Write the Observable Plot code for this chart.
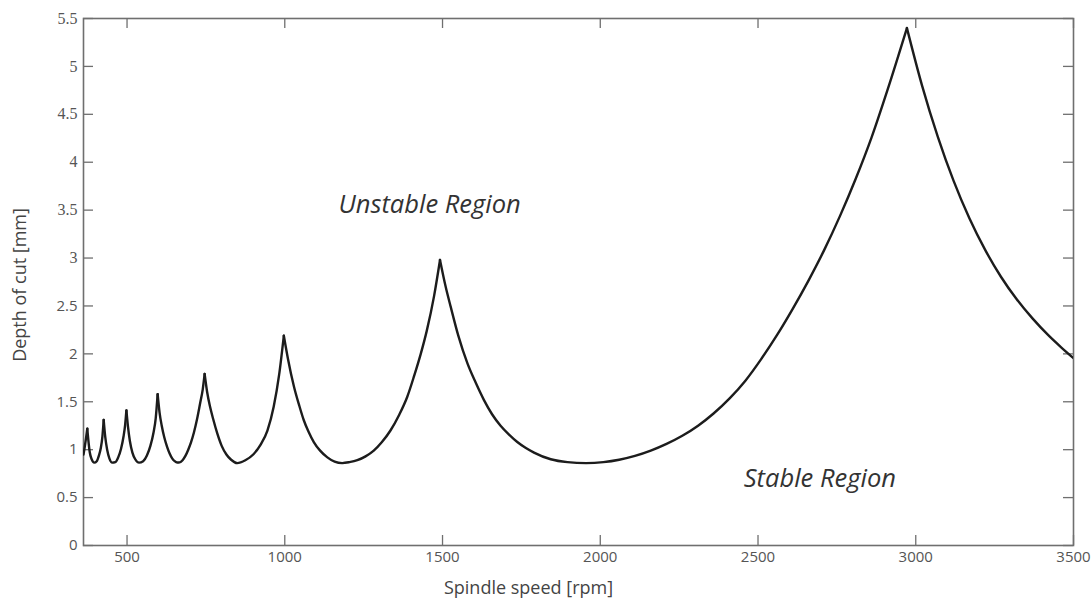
<!DOCTYPE html>
<html><head><meta charset="utf-8">
<script src="https://cdn.jsdelivr.net/npm/d3@7"></script>
<script src="https://cdn.jsdelivr.net/npm/@observablehq/plot@0.6"></script>
<style>
html,body{margin:0;padding:0;background:#fff;}
#chart{width:1091px;height:600px;}
</style></head><body><div id="chart"></div>
<script>
// Spindle speed [rpm] along the stability-lobe boundary (a repeated speed marks a lobe cusp)
const speed = [
362,366,370,374,
374,378,382,388,396,404,411,417,422,426,
426,431,437,444,453,463,472,481,489,494,498,
498,503,509,517,526,538,551,563,574,584,591,597,
597,603,610,618,627,635,643,651,659,667,676,685,694,703,712,722,732,740,746,
746,754,763,773,786,800,815,830,849,875,900,923,945,965,982,997,
997,1010,1029,1045,1060,1075,1092,1112,1135,1158,1182,1205,1230,1256,1282,1308,1335,1362,1388,1410,1431,1450,1473,1492,
1492,1510,1526,1550,1579,1605,1631,1657,1684,1710,1737,1763,1790,1843,1896,1955,2010,2060,2110,2160,2210,2260,2310,2360,2410,2460,2510,2560,2610,2660,2710,2760,2810,2860,2910,2972,
2972,3020,3070,3120,3170,3220,3270,3320,3370,3420,3460,3500
];
// Depth of cut [mm]
const depth = [
0.95,1.03,1.12,1.22,
1.22,1.08,0.97,0.9,0.865,0.88,0.94,1.02,1.14,1.31,
1.31,1.13,1.0,0.91,0.865,0.87,0.92,1.01,1.14,1.26,1.41,
1.41,1.24,1.09,0.97,0.9,0.865,0.88,0.94,1.04,1.18,1.33,1.58,
1.58,1.39,1.25,1.13,1.03,0.96,0.91,0.88,0.866,0.868,0.89,0.935,1.0,1.08,1.18,1.32,1.49,1.63,1.79,
1.79,1.6,1.45,1.32,1.17,1.04,0.95,0.895,0.86,0.89,0.95,1.05,1.2,1.45,1.78,2.19,
2.19,1.95,1.66,1.47,1.31,1.19,1.08,0.99,0.92,0.875,0.86,0.87,0.89,0.93,0.99,1.08,1.2,1.36,1.55,1.77,2.0,2.24,2.6,2.98,
2.98,2.7,2.49,2.19,1.9,1.7,1.52,1.37,1.25,1.16,1.08,1.02,0.97,0.9,0.87,0.86,0.87,0.895,0.935,0.99,1.06,1.145,1.25,1.38,1.535,1.72,1.945,2.195,2.47,2.765,3.085,3.44,3.83,4.26,4.75,5.4,
5.4,4.8,4.265,3.805,3.415,3.085,2.805,2.57,2.37,2.195,2.071,1.955
];
const xTicks = [500,1000,1500,2000,2500,3000,3500];
const yTicks = [0,0.5,1,1.5,2,2.5,3,3.5,4,4.5,5,5.5];
const yTickLabels = ["0","0.5","1","1.5","2","2.5","3","3.5","4","4.5","5","5.5"];
const xTitle = "Spindle speed [rpm]";
const yTitle = "Depth of cut [mm]";
const regionNames = ["Unstable Region","Stable Region"];
const regionSpeed = [1459, 2696];
const regionDepth = [3.56, 0.70];

// group points into lobes (a new lobe starts at each repeated cusp speed)
let lobeId = 0;
const rows = speed.map((s, i) => {
  if (i > 0 && s === speed[i - 1]) lobeId++;
  return {speed: s, depth: depth[i], lobe: lobeId};
});

const W = 1091, H = 600, ML = 83, MR = 18, MT = 18, MB = 55;
const innerW = W - ML - MR, innerH = H - MT - MB, T = 10;
const axisColor = "#6f6f6f", labelColor = "#555";
const yLab = yTicks.map((v, i) => ({v, t: yTickLabels[i]}));

const chart = Plot.plot({
  width: W, height: H,
  marginLeft: ML, marginRight: MR, marginTop: MT, marginBottom: MB,
  style: {fontFamily: "'Open Sans', sans-serif", background: "#fff", overflow: "visible"},
  x: {domain: [362, 3500], axis: null},
  y: {domain: [0, 5.5], axis: null},
  marks: [
    Plot.frame({stroke: axisColor, strokeWidth: 1.6}),
    Plot.tickX(xTicks, {x: d => d, insetTop: innerH - T, stroke: axisColor, strokeWidth: 1.3}),
    Plot.tickX(xTicks, {x: d => d, insetBottom: innerH - T, stroke: axisColor, strokeWidth: 1.3}),
    Plot.tickY(yTicks, {y: d => d, insetRight: innerW - T, stroke: axisColor, strokeWidth: 1.3}),
    Plot.tickY(yTicks, {y: d => d, insetLeft: innerW - T, stroke: axisColor, strokeWidth: 1.3}),
    Plot.text(xTicks, {x: d => d, frameAnchor: "bottom", dy: 12, text: d => String(d), fontSize: 15, fill: labelColor, lineAnchor: "middle"}),
    Plot.text(yLab.filter(d => d.v < 3), {y: "v", text: "t", frameAnchor: "left", dx: -6, textAnchor: "end", fontSize: 15, fill: labelColor, lineAnchor: "middle"}),
    Plot.text(yLab.filter(d => d.v >= 3), {y: "v", text: "t", frameAnchor: "left", dx: -6, textAnchor: "end", fontSize: 16, fill: labelColor, lineAnchor: "middle", fontFamily: "'Liberation Serif', serif"}),
    Plot.text([xTitle], {frameAnchor: "bottom", dx: -50, dy: 43, fontSize: 18, fill: "#444", textAnchor: "middle", lineAnchor: "middle"}),
    Plot.text([yTitle], {frameAnchor: "left", dx: -63, dy: 3, rotate: -90, fontSize: 18, fill: "#444", textAnchor: "middle", lineAnchor: "middle"}),
    Plot.text(regionNames, {x: regionSpeed, y: regionDepth, fontStyle: "italic", fontSize: 25.5, fill: "#333", textAnchor: "middle", lineAnchor: "middle"}),
    Plot.line(rows, {x: "speed", y: "depth", z: "lobe", curve: "monotone-x", stroke: "#1c1c1c", strokeWidth: 2.4, clip: true})
  ]
});
document.getElementById("chart").appendChild(chart);
</script>
</body></html>
